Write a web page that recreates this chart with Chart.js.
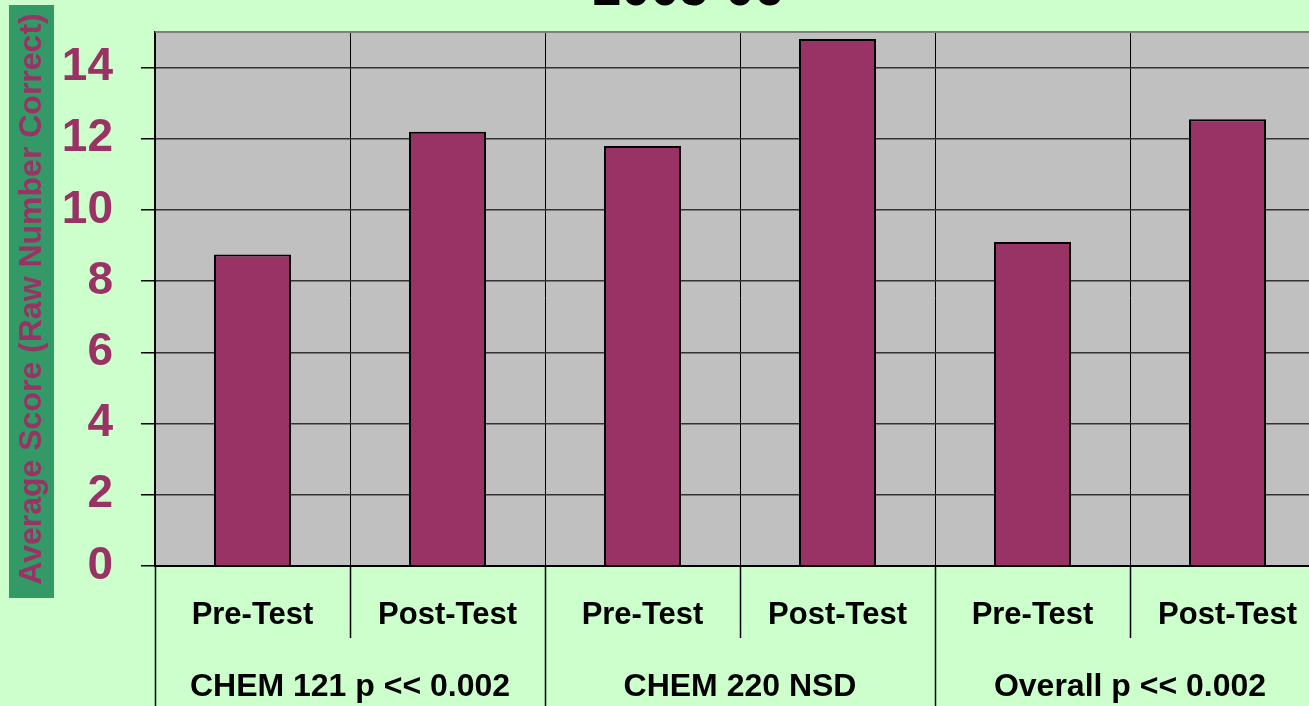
<!DOCTYPE html>
<html>
<head>
<meta charset="utf-8">
<script src="https://cdn.jsdelivr.net/npm/chart.js@4.4.0/dist/chart.umd.min.js"></script>
<style>
    html, body { margin: 0; padding: 0; background: #CCFFCC; overflow: hidden; }
    .wrap { position: relative; width: 1330px; height: 706px; }
    .title {
        position: absolute; top: -39px; left: 588px; width: 200px; text-align: center;
        font: bold 52px "Liberation Sans", Arial, sans-serif; line-height: 52px; color: #000;
    }
</style>
</head>
<body>
<div class="wrap">
    <canvas id="scoreChart" width="1330" height="706"></canvas>
    <div class="title">2005-06</div>
</div>
<script>
const categories = ['Pre-Test', 'Post-Test', 'Pre-Test', 'Post-Test', 'Pre-Test', 'Post-Test'];
const groups = ['CHEM 121 p << 0.002', 'CHEM 220 NSD', 'Overall p << 0.002'];
const scores = [8.75, 12.2, 11.8, 14.8, 9.1, 12.55];
const yTicks = [0, 2, 4, 6, 8, 10, 12, 14];

const FONT = '"Liberation Sans", Arial, sans-serif';

// plot background, y title box and the separators under the axis
const decor = {
    id: 'decor',
    beforeDraw(chart) {
        const { ctx, chartArea: a } = chart;
        ctx.save();
        ctx.fillStyle = '#339966';
        ctx.fillRect(9, 5, 45, 593);
        ctx.fillStyle = '#C0C0C0';
        ctx.fillRect(a.left, a.top, a.right - a.left, a.bottom - a.top);
        ctx.restore();
    },
    afterDraw(chart) {
        const { ctx, chartArea: a } = chart;
        const x = chart.scales.x;
        const half = (x.getPixelForValue(1) - x.getPixelForValue(0)) / 2;
        ctx.save();
        ctx.strokeStyle = '#808080';
        ctx.lineWidth = 2;
        ctx.beginPath();
        ctx.moveTo(a.left, a.top);
        ctx.lineTo(a.right, a.top);
        ctx.stroke();
        ctx.strokeStyle = '#000';
        ctx.lineWidth = 1.5;
        for (let i = 0; i <= categories.length; i++) {
            const px = Math.round(x.getPixelForValue(i) - half) + 0.5;
            const end = i % 2 === 0 ? chart.height : a.bottom + 72;
            ctx.beginPath();
            ctx.moveTo(px, a.bottom);
            ctx.lineTo(px, end);
            ctx.stroke();
        }
        ctx.restore();
    }
};

new Chart(document.getElementById('scoreChart'), {
    type: 'bar',
    data: {
        labels: categories,
        datasets: [{
            data: scores,
            backgroundColor: '#993366',
            borderColor: '#000',
            borderWidth: 2,
            barPercentage: 0.395,
            categoryPercentage: 1
        }]
    },
    options: {
        responsive: false,
        animation: false,
        layout: { padding: { top: 32, right: 5, left: 0, bottom: 0 } },
        plugins: {
            legend: { display: false },
            tooltip: { enabled: false }
        },
        scales: {
            x: {
                offset: true,
                grid: { offset: true, color: '#000', lineWidth: 1, drawTicks: false },
                border: { color: '#000', width: 2 },
                ticks: {
                    color: '#000', padding: 31,
                    font: { family: FONT, size: 31, weight: 'bold' }
                },
                afterFit: s => { s.height = 72; s.paddingLeft = 0; s.paddingRight = 0; }
            },
            x2: {
                type: 'category',
                labels: groups,
                position: 'bottom',
                offset: true,
                grid: { display: false },
                border: { display: false },
                ticks: {
                    color: '#000', padding: 22,
                    font: { family: FONT, size: 32, weight: 'bold' }
                },
                afterFit: s => { s.height = 68; s.paddingLeft = 0; s.paddingRight = 0; }
            },
            y: {
                min: 0,
                max: 15,
                afterBuildTicks: s => { s.ticks = yTicks.map(v => ({ value: v })); },
                grid: { color: '#333', lineWidth: 1.5, tickLength: 14, tickColor: '#000' },
                border: { color: '#000', width: 2 },
                ticks: {
                    color: '#993366', padding: 28,
                    font: { family: FONT, size: 46, weight: 'bold' }
                },
                title: {
                    display: true,
                    text: 'Average Score (Raw Number Correct)',
                    color: '#993366',
                    padding: { top: 13, bottom: 0 },
                    font: { family: FONT, size: 32, weight: 'bold' }
                },
                afterFit: s => { s.width = 155; s.paddingTop = 0; s.paddingBottom = 0; }
            }
        }
    },
    plugins: [decor]
});
</script>
</body>
</html>
